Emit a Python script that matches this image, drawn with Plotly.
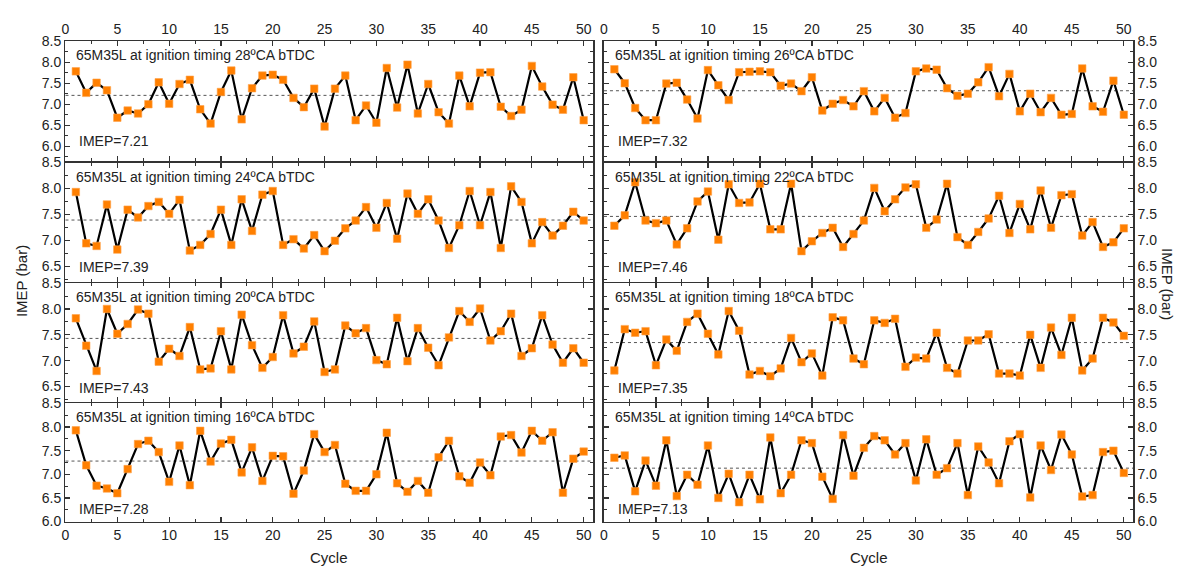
import plotly.graph_objects as go

# ---------------- data ----------------
cycles = list(range(1, 51))
timings = ["28", "26", "24", "22", "20", "18", "16", "14"]
imep_means = [7.21, 7.32, 7.39, 7.46, 7.43, 7.35, 7.28, 7.13]

imep_28 = [7.78, 7.27, 7.51, 7.33, 6.68, 6.85, 6.78, 7.00, 7.52, 7.01,
           7.48, 7.58, 6.88, 6.54, 7.29, 7.80, 6.64, 7.38, 7.68, 7.70,
           7.58, 7.15, 6.93, 7.37, 6.47, 7.37, 7.68, 6.62, 6.97, 6.56,
           7.86, 6.92, 7.94, 6.78, 7.48, 6.81, 6.54, 7.68, 6.95, 7.75,
           7.76, 6.94, 6.72, 6.87, 7.91, 7.42, 6.99, 6.87, 7.64, 6.62]
imep_26 = [7.83, 7.50, 6.91, 6.62, 6.62, 7.49, 7.51, 7.11, 6.66, 7.81,
           7.45, 7.10, 7.76, 7.77, 7.78, 7.76, 7.44, 7.49, 7.31, 7.64,
           6.85, 7.01, 7.10, 6.95, 7.31, 6.83, 7.15, 6.68, 6.79, 7.78,
           7.85, 7.82, 7.38, 7.20, 7.25, 7.52, 7.88, 7.19, 7.72, 6.83,
           7.25, 6.81, 7.15, 6.75, 6.77, 7.85, 6.95, 6.82, 7.56, 6.75]
imep_24 = [7.93, 6.94, 6.89, 7.69, 6.82, 7.59, 7.44, 7.66, 7.74, 7.51,
           7.78, 6.80, 6.91, 7.12, 7.59, 6.91, 7.79, 7.18, 7.88, 7.95,
           6.91, 7.02, 6.84, 7.10, 6.79, 6.99, 7.23, 7.38, 7.64, 7.24,
           7.72, 7.03, 7.90, 7.51, 7.79, 7.38, 6.85, 7.29, 7.95, 7.29,
           7.93, 6.85, 8.04, 7.74, 6.94, 7.35, 7.09, 7.28, 7.55, 7.38]
imep_22 = [7.28, 7.48, 8.12, 7.38, 7.33, 7.38, 6.92, 7.23, 7.75, 7.94,
           7.01, 8.08, 7.72, 7.73, 8.09, 7.21, 7.21, 8.09, 6.79, 6.98,
           7.14, 7.24, 6.87, 7.12, 7.38, 8.01, 7.56, 7.79, 8.02, 8.08,
           7.24, 7.40, 8.09, 7.06, 6.91, 7.16, 7.42, 7.86, 7.14, 7.70,
           7.21, 7.96, 7.24, 7.87, 7.89, 7.09, 7.35, 6.87, 6.96, 7.23]
imep_20 = [7.82, 7.29, 6.80, 8.00, 7.52, 7.71, 7.99, 7.91, 6.98, 7.23,
           7.09, 7.65, 6.83, 6.85, 7.57, 6.83, 7.89, 7.30, 6.86, 7.07,
           7.88, 7.14, 7.27, 7.76, 6.78, 6.83, 7.68, 7.53, 7.63, 7.01,
           6.93, 7.83, 6.99, 7.63, 7.25, 6.91, 7.45, 7.96, 7.75, 8.01,
           7.39, 7.57, 7.91, 7.09, 7.24, 7.88, 7.31, 6.96, 7.24, 6.96]
imep_18 = [6.81, 7.61, 7.54, 7.57, 6.91, 7.41, 7.19, 7.75, 7.91, 7.52,
           7.12, 7.96, 7.58, 6.73, 6.80, 6.70, 6.85, 7.44, 6.97, 7.14,
           6.71, 7.84, 7.78, 7.04, 6.93, 7.78, 7.73, 7.81, 6.88, 7.06,
           7.04, 7.54, 6.86, 6.75, 7.39, 7.39, 7.51, 6.75, 6.75, 6.71,
           7.50, 6.86, 7.64, 7.11, 7.83, 6.81, 7.04, 7.83, 7.74, 7.48]
imep_16 = [7.93, 7.19, 6.76, 6.70, 6.60, 7.11, 7.64, 7.71, 7.47, 6.84,
           7.61, 6.77, 7.92, 7.27, 7.65, 7.73, 7.04, 7.57, 6.86, 7.39,
           7.38, 6.59, 7.08, 7.85, 7.47, 7.62, 6.80, 6.65, 6.65, 7.00,
           7.88, 6.81, 6.63, 6.86, 6.61, 7.36, 7.71, 6.96, 6.82, 7.25,
           6.98, 7.80, 7.83, 7.46, 7.92, 7.71, 7.89, 6.61, 7.33, 7.48]
imep_14 = [7.35, 7.40, 6.64, 7.29, 6.76, 7.72, 6.54, 6.99, 6.78, 7.61,
           6.50, 7.01, 6.41, 6.99, 6.47, 7.78, 6.60, 6.99, 7.72, 7.66,
           6.95, 6.48, 7.83, 6.97, 7.56, 7.81, 7.72, 7.42, 7.66, 6.87,
           7.74, 6.99, 7.13, 7.66, 6.56, 7.59, 7.25, 6.81, 7.70, 7.85,
           6.51, 7.61, 7.09, 7.84, 7.42, 6.53, 6.56, 7.47, 7.50, 7.03]

series = [imep_28, imep_26, imep_24, imep_22, imep_20, imep_18, imep_16, imep_14]

x_tick_step = 5
y_tick_step = 0.5

# ---------------- layout helpers ----------------
W, H = 1182, 574
col_px = [(61.7, 591.0), (602.0, 1133.0)]
row_bounds = [34.0, 158.2, 282.3, 406.0, 528.3]
LW = 1.5
y_ranges = [[5.65, 8.5], [6.2, 8.5], [6.2, 8.5], [6.0, 8.5]]
imep_label_frac = [0.17, 0.125, 0.12, 0.11]

FONT = "Liberation Sans, Arial, sans-serif"
AX = "#333333"
TXT = "#222222"


def row_domain(r):
    top = row_bounds[r] + (LW / 2 if r > 0 else 0)
    bot = row_bounds[r + 1] - (LW / 2 if r < 3 else 0)
    return [1 - bot / H, 1 - top / H]


fig = go.Figure()
layout = dict(
    width=W, height=H,
    margin=dict(l=0, r=0, t=0, b=0),
    paper_bgcolor="white", plot_bgcolor="white",
    showlegend=False,
    font=dict(family=FONT, color=TXT, size=14),
)
annotations = []
shapes = []

for k, vals in enumerate(series):
    row, col = divmod(k, 2)
    idx = "" if k == 0 else str(k + 1)
    xname, yname = "x" + idx, "y" + idx

    fig.add_trace(go.Scatter(
        x=cycles, y=vals, xaxis=xname, yaxis=yname,
        mode="lines+markers",
        line=dict(color="black", width=2.2),
        marker=dict(symbol="square", size=7.5, color="#FF7F00",
                    line=dict(width=0.6, color="#FFA24A")),
        hoverinfo="x+y",
    ))

    xd = [col_px[col][0] / W, col_px[col][1] / W]
    yd = row_domain(row)

    layout["xaxis" + idx] = dict(
        domain=xd, range=[0, 50.9], anchor=yname,
        tick0=0, dtick=x_tick_step,
        ticks="inside", ticklen=5, tickwidth=1.2, tickcolor=AX,
        minor=dict(dtick=x_tick_step / 2, ticks="inside", ticklen=3,
                   tickwidth=1, tickcolor=AX),
        showline=True, linecolor=AX, linewidth=LW, mirror="ticks",
        showgrid=False, zeroline=False,
        showticklabels=row in (0, 3),
        side="top" if row == 0 else "bottom",
        tickfont=dict(size=14, color=TXT, family=FONT),
    )
    layout["yaxis" + idx] = dict(
        domain=yd, range=y_ranges[row], anchor=xname,
        tick0=6.0, dtick=y_tick_step, tickformat=".1f",
        ticks="inside", ticklen=5, tickwidth=1.2, tickcolor=AX,
        minor=dict(dtick=y_tick_step / 2, ticks="inside", ticklen=3,
                   tickwidth=1, tickcolor=AX),
        showline=True, linecolor=AX, linewidth=LW, mirror="ticks",
        showgrid=False, zeroline=False,
        side="left" if col == 0 else "right",
        tickfont=dict(size=14, color=TXT, family=FONT),
    )

    shapes.append(dict(
        type="line", xref=xname + " domain", yref=yname,
        x0=0, x1=1, y0=imep_means[k], y1=imep_means[k],
        line=dict(color="#555555", width=1, dash="dot"), layer="below",
    ))

    annotations.append(dict(
        text=f"65M35L at ignition timing {timings[k]}ºCA bTDC",
        xref=xname + " domain", yref=yname + " domain",
        x=0, y=1, xanchor="left", yanchor="top",
        xshift=9, yshift=-4, showarrow=False,
        font=dict(size=14, color=TXT, family=FONT),
    ))
    annotations.append(dict(
        text=f"IMEP={imep_means[k]:.2f}",
        xref=xname + " domain", yref=yname + " domain",
        x=0, y=imep_label_frac[row], xanchor="left", yanchor="middle",
        xshift=12, showarrow=False,
        font=dict(size=14, color=TXT, family=FONT),
    ))

for col in range(2):
    annotations.append(dict(
        text="Cycle", xref="paper", yref="paper",
        x=(col_px[col][0] + col_px[col][1]) / 2 / W, y=1 - 565 / H,
        xanchor="center", yanchor="middle", showarrow=False,
        font=dict(size=15, color=TXT, family=FONT),
    ))

annotations.append(dict(
    text="IMEP (bar)", xref="paper", yref="paper",
    x=17 / W, y=1 - 281 / H, textangle=-90,
    xanchor="center", yanchor="middle", showarrow=False,
    font=dict(size=15, color=TXT, family=FONT),
))
annotations.append(dict(
    text="IMEP (bar)", xref="paper", yref="paper",
    x=1168 / W, y=1 - 284 / H, textangle=90,
    xanchor="center", yanchor="middle", showarrow=False,
    font=dict(size=15, color=TXT, family=FONT),
))

layout["annotations"] = annotations
layout["shapes"] = shapes
fig.update_layout(**layout)

fig.write_html(
    "out.html",
    config={"displayModeBar": False, "staticPlot": True},
    post_script="document.body.style.margin='0';document.body.style.overflow='hidden';",
)
